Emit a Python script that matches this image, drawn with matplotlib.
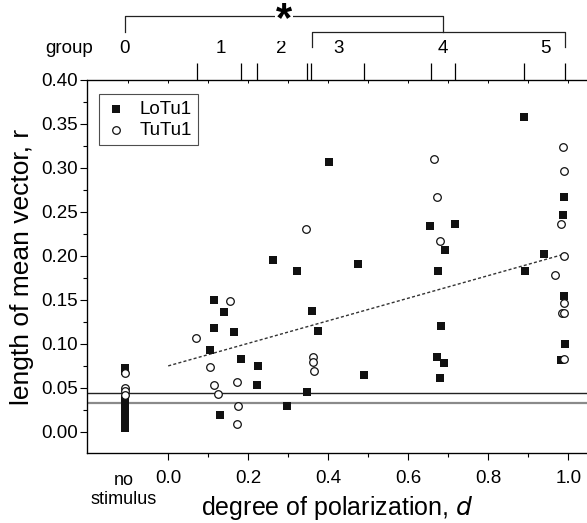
import matplotlib
matplotlib.use("Agg")
import matplotlib.pyplot as plt
import matplotlib.transforms as mtransforms

plt.rcParams['font.family'] = ['Liberation Sans', 'DejaVu Sans']

# position used for the "no stimulus" column
x_nostim = -0.108

# LoTu1 (filled squares)
lotu_nostim = [0.073, 0.069, 0.037, 0.034, 0.031, 0.029, 0.026, 0.024, 0.021,
               0.018, 0.016, 0.013, 0.011, 0.008, 0.006, 0.004]
lotu_d = [0.1155, 0.139, 0.1143, 0.1635, 0.1035, 0.1825, 0.2235, 0.2225, 0.129,
          0.2975, 0.263, 0.321, 0.4025, 0.359, 0.374, 0.346, 0.4735, 0.4885,
          0.655, 0.716, 0.6925, 0.675, 0.682, 0.673, 0.689, 0.6785,
          0.889, 0.8925, 0.94, 0.9885, 0.986, 0.99, 0.992, 0.982]
lotu_r = [0.150, 0.136, 0.118, 0.113, 0.093, 0.083, 0.0746, 0.0534, 0.0193,
          0.0295, 0.195, 0.183, 0.307, 0.1375, 0.1144, 0.0455, 0.191, 0.0644,
          0.234, 0.236, 0.207, 0.183, 0.1205, 0.0856, 0.0788, 0.0617,
          0.358, 0.183, 0.202, 0.267, 0.246, 0.154, 0.0997, 0.082]

# TuTu1 (open circles)
tutu_nostim = [0.067, 0.050, 0.047, 0.042]
tutu_d = [0.155, 0.07, 0.104, 0.115, 0.171, 0.1235, 0.175, 0.171,
          0.344, 0.3625, 0.361, 0.3635,
          0.664, 0.672, 0.68,
          0.9875, 0.9895, 0.982, 0.99, 0.9675, 0.99, 0.9845, 0.9895, 0.989]
tutu_r = [0.149, 0.107, 0.074, 0.0534, 0.0565, 0.0432, 0.0295, 0.0088,
          0.231, 0.0856, 0.080, 0.0697,
          0.310, 0.267, 0.217,
          0.324, 0.296, 0.236, 0.200, 0.178, 0.147, 0.135, 0.135, 0.0826]

# regression line end points and the two reference levels
fit_d = [0.0, 0.99]
fit_r = [0.075, 0.202]
ref_levels = [0.044, 0.0333]

# groups on the top axis
group_edges = [0.072, 0.183, 0.223, 0.347, 0.357, 0.49, 0.656, 0.717, 0.89, 0.993]
group_pos = [-0.108, 0.132, 0.283, 0.426, 0.686, 0.943]
group_labels = ['0', '1', '2', '3', '4', '5']

fs = 13.5

fig = plt.figure(figsize=(5.87, 5.23), dpi=100)
ax = fig.add_axes([87/587, 1-453/523, 500/587, 373/523])
ax.set_xlim(-0.203, 1.047)
ax.set_ylim(-0.024, 0.40)

ax.axhline(ref_levels[0], color='#222222', lw=1.0, zorder=1)
ax.axhline(ref_levels[1], color='#8a8a8a', lw=1.6, zorder=1)
ax.plot(fit_d, fit_r, color='#333333', lw=1.0, ls=(0, (2.2, 1.6)), zorder=2)

ax.scatter([x_nostim]*len(lotu_nostim) + lotu_d, lotu_nostim + lotu_r, marker='s',
           s=26, color='#111111', linewidths=0, zorder=3, label='LoTu1')
ax.scatter([x_nostim]*len(tutu_nostim) + tutu_d, tutu_nostim + tutu_r, marker='o',
           s=30, facecolor='white', edgecolor='#111111', linewidths=0.9, zorder=4,
           label='TuTu1')

ax.set_xticks([0.0, 0.2, 0.4, 0.6, 0.8, 1.0])
ax.set_xticklabels(['0.0', '0.2', '0.4', '0.6', '0.8', '1.0'])
ax.set_xticks([0.1, 0.3, 0.5, 0.7, 0.9], minor=True)
ax.set_yticks([0.0, 0.05, 0.10, 0.15, 0.20, 0.25, 0.30, 0.35, 0.40])
ax.set_yticklabels(['0.00', '0.05', '0.10', '0.15', '0.20', '0.25', '0.30', '0.35', '0.40'])
ax.set_yticks([0.025, 0.075, 0.125, 0.175, 0.225, 0.275, 0.325, 0.375], minor=True)
ax.tick_params(which='major', direction='out', length=5, width=0.8, labelsize=fs, pad=1.5)
ax.tick_params(which='minor', direction='out', length=3, width=0.8)
ax.tick_params(axis='x', which='major', pad=7)
ax.spines['right'].set_visible(False)
for s in ['left', 'bottom', 'top']:
    ax.spines[s].set_linewidth(0.9)

ax.set_xlabel('degree of polarization, $\\it{d}$', fontsize=18, labelpad=5)
ax.set_ylabel('length of mean vector, r', fontsize=19, labelpad=5)

trans = mtransforms.blended_transform_factory(ax.transData, ax.transAxes)
ax.text(x_nostim - 0.004, -0.05, 'no\nstimulus', transform=trans, ha='center', va='top',
        fontsize=13, linespacing=1.2)

leg = ax.legend(loc='upper left', bbox_to_anchor=(0.024, 0.962), fontsize=fs,
                frameon=True, fancybox=False, edgecolor='#222222', borderpad=0.35,
                handletextpad=0.7, handlelength=1.1, labelspacing=0.2, borderaxespad=0)
leg.get_frame().set_linewidth(0.8)

# top group axis
ax2 = ax.twiny()
ax2.set_xlim(ax.get_xlim())
ax2.spines['right'].set_visible(False)
ax2.set_xticks(group_edges)
ax2.set_xticklabels([])
ax2.set_xticks([-0.1, 0.0, 0.1, 0.2, 0.3, 0.4, 0.5, 0.6, 0.7, 0.8, 0.9, 1.0], minor=True)
ax2.tick_params(which='major', direction='out', length=12, width=0.9)
ax2.tick_params(which='minor', direction='in', length=2.5, width=0.7)

for p, lab in zip(group_pos, group_labels):
    ax.text(p, 1.085, lab, transform=trans, ha='center', va='center', fontsize=fs)
ax.text(-0.188, 1.085, 'group', transform=trans, ha='right', va='center', fontsize=fs)

# significance brackets
y1, y1b = 1.1724, 1.1295
y2, y2b = 1.1295, 1.0893
ax.plot([group_pos[0], group_pos[0], group_pos[4], group_pos[4]], [y1b, y1, y1, y1b],
        transform=trans, color='#222222', lw=0.9, clip_on=False)
ax.plot([0.359, 0.359, 0.993, 0.993], [y2b, y2, y2, y2b],
        transform=trans, color='#222222', lw=0.9, clip_on=False)
ax.text((group_pos[0] + group_pos[4]) / 2, y1 - 0.012, '*', transform=trans, ha='center',
        va='center', fontsize=30, fontweight='bold',
        bbox=dict(facecolor='white', edgecolor='none', pad=0.5))

fig.savefig('out.png', dpi=100)
